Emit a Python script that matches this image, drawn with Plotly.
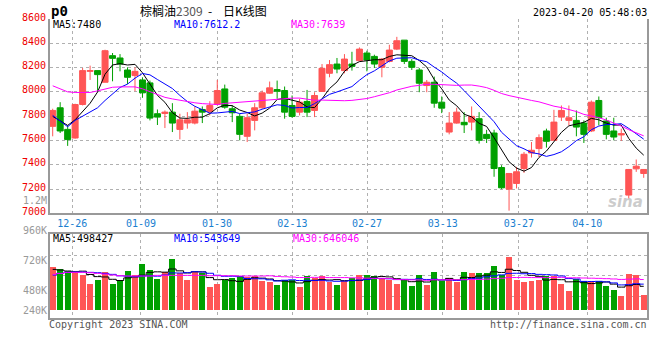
import plotly.graph_objects as go
import pandas as pd

# ---------------- data ----------------
dates = ["12-21","12-22","12-23","12-26","12-27","12-28","12-29","12-30",
         "01-03","01-04","01-05","01-06","01-09","01-10","01-11","01-12","01-13",
         "01-16","01-17","01-18","01-19","01-20","01-30","01-31","02-01","02-02","02-03",
         "02-06","02-07","02-08","02-09","02-10","02-13","02-14","02-15","02-16","02-17",
         "02-20","02-21","02-22","02-23","02-24","02-27","02-28","03-01","03-02","03-03",
         "03-06","03-07","03-08","03-09","03-10","03-13","03-14","03-15","03-16","03-17",
         "03-20","03-21","03-22","03-23","03-24","03-27","03-28","03-29","03-30","03-31",
         "04-03","04-04","04-06","04-07","04-10","04-11","04-12","04-13","04-14",
         "04-17","04-18","04-19","04-20"]

opens  = [7716,7869,7691,7620,7896,8169,8175,8079,8298,8279,8180,8134,8098,8074,7820,7822,7833,
          7691,7743,7743,7855,7839,7896,8024,7861,7798,7634,7765,7869,7989,8019,8011,7888,
          7833,7921,7847,8003,8153,8229,8175,8229,8257,8320,8292,8202,8251,8352,8426,8251,
          8180,8052,8079,7915,7669,7743,7749,7751,7779,7650,7661,7377,7199,7246,7369,7497,
          7533,7678,7601,7792,7765,7765,7743,7678,7929,7760,7678,7645,7150,7366,7328]
highs  = [7861,7915,7724,7902,8197,8216,8175,8347,8320,8311,8202,8202,8120,8093,7855,7847,7907,
          7820,7833,7880,7880,7923,8098,8060,7888,7820,7820,7907,8011,8085,8093,8044,7970,
          7943,8016,7997,8229,8262,8279,8311,8330,8366,8339,8306,8279,8388,8453,8426,8270,
          8197,8098,8126,7962,7833,7869,7833,7880,7833,7688,7688,7396,7328,7382,7505,7587,
          7650,7697,7852,7888,7888,7847,7765,7929,7962,7787,7787,7697,7361,7443,7361]
lows   = [7634,7661,7555,7615,7888,8098,7997,8079,8087,8169,8065,8005,7951,7765,7727,7702,7669,
          7609,7697,7732,7743,7806,7888,7861,7751,7601,7587,7683,7861,7984,7943,7779,7787,
          7806,7792,7792,8003,8120,8153,8153,8175,8251,8169,8197,8120,8243,8344,8229,8180,
          7997,7997,7869,7825,7650,7738,7661,7683,7574,7579,7301,7199,7022,7205,7333,7459,
          7464,7541,7601,7760,7724,7634,7579,7669,7724,7609,7601,7596,7123,7341,7292]
closes = [7847,7678,7607,7896,8175,8175,8142,8339,8276,8229,8120,8169,7992,7784,7792,7833,7743,
          7770,7770,7841,7833,7888,8011,7874,7828,7650,7787,7869,7992,8033,8005,7833,7798,
          7915,7833,7970,8194,8224,8188,8270,8210,8352,8262,8229,8270,8344,8421,8251,8202,
          8071,8079,7907,7866,7743,7833,7729,7798,7601,7615,7369,7210,7328,7342,7486,7519,
          7623,7593,7751,7847,7787,7710,7650,7915,7787,7650,7628,7656,7361,7388,7361]
volumes_k = [921,878,843,815,744,567,652,807,567,616,843,758,992,864,673,807,1098,
             793,637,807,793,489,567,652,687,722,701,737,616,595,545,652,652,
             503,737,687,737,595,545,630,687,758,758,737,687,652,567,652,524,
             758,545,807,630,694,595,822,786,786,786,949,758,1126,652,595,630,
             652,722,722,567,404,666,616,630,630,510,439,297,779,758,319]

# moving-average values before enough history is visible
ma5_head  = [7798,7760,7724,7770]
ma10_head = [7806,7757,7713,7765,7798,7833,7869,7929,7984]
ma30_head = [8050,8025,8000,7995,7995,7995,8008,8025,8038,8041,8041,8041,8025,8000,7975,
             7955,7942,7930,7920,7910,7903,7898,7896,7905,7910,7912,7915,7925,7930]
vma5_head  = [878,864,843,829]
vma10_head = [758,793,815,822,822,815,807,793,772]
vma30_head = [772,793,815,815,815,807,793,779,758,744,737,737,737,737,751,751,751,751,751,
              751,751,744,744,744,744,737,737,737,737]

tick_labels = ["12-26","01-09","01-30","02-13","02-27","03-13","03-27","04-10"]
price_ticks = [7000,7200,7400,7600,7800,8000,8200,8400,8600]

header_price = [("MA5:7480","#000000"),("MA10:7612.2","#0000ff"),("MA30:7639","#ff00ff")]
header_vol   = [("MA5:498427","#000000"),("MA10:543649","#0000ff"),("MA30:646046","#ff00ff")]
vol_labels   = ["1.2M","960K","720K","480K","240K"]

# ---------------- derived ----------------
def ma(vals, n, head):
    s = pd.Series(vals, dtype=float).rolling(n).mean().tolist()
    return list(head) + s[len(head):]

idx = list(range(len(dates)))
ma5, ma10, ma30 = ma(closes,5,ma5_head), ma(closes,10,ma10_head), ma(closes,30,ma30_head)
vma5, vma10, vma30 = ma(volumes_k,5,vma5_head), ma(volumes_k,10,vma10_head), ma(volumes_k,30,vma30_head)

RED, GREEN = "#ff5555", "#00a000"
MONO = "DejaVu Sans Mono"
GRID = "#b0b0b0"
AX = "#999999"

# ---------------- layout geometry ----------------
L, R, T, B = 50, 649.3, 19, 318
def px(x): return (x - L) / (R - L)
def py(y): return (B - y) / (B - T)

tick_pos = [2.61, 11.8, 21.97, 32.04, 42.02, 52.14, 62.32, 71.45]
xr = [-0.36, 79.44]
vscale = 0.04706  # px per K
vbase_y = 310.7
vrange = [-(B - vbase_y) / vscale, (vbase_y - 234.3) / vscale]
vgrid = [(vbase_y - y) / vscale for y in (296, 275.3, 255)]

fig = go.Figure()
fig.add_trace(go.Candlestick(
    x=idx, open=opens, high=highs, low=lows, close=closes,
    increasing=dict(line=dict(color=RED, width=1), fillcolor=RED),
    decreasing=dict(line=dict(color=GREEN, width=1), fillcolor=GREEN),
    whiskerwidth=0, xaxis="x", yaxis="y", hoverinfo="skip", showlegend=False))
for series, col in ((ma5,"#000000"),(ma10,"#0000ff"),(ma30,"#ff00ff")):
    fig.add_trace(go.Scatter(x=idx, y=series, mode="lines", line=dict(color=col, width=1),
                             xaxis="x", yaxis="y", hoverinfo="skip", showlegend=False))

vcolors = [RED if c >= o else GREEN for o, c in zip(opens, closes)]
fig.add_trace(go.Bar(x=idx, y=volumes_k, marker=dict(color=vcolors, line=dict(width=0)),
                     width=0.8, xaxis="x2", yaxis="y2", hoverinfo="skip", showlegend=False))
for series, col in ((vma5,"#000000"),(vma10,"#0000ff"),(vma30,"#ff00ff")):
    fig.add_trace(go.Scatter(x=idx, y=series, mode="lines", line=dict(color=col, width=1, shape="hvh"),
                             xaxis="x2", yaxis="y2", hoverinfo="skip", showlegend=False))

ann = []
def text(x, y, s, color="#000", size=10, xa="left", family=MONO, bold=False):
    if bold:
        s = "<b>" + s + "</b>"
    ann.append(dict(x=px(x), y=py(y), xref="paper", yref="paper", text=s, showarrow=False,
                    xanchor=xa, yanchor="middle", font=dict(family=family, size=size, color=color),
                    borderpad=0))

NB = "\u00a0"
text(50, 11.5, "p0", size=14, bold=True)
text(139, 10, "棕榈油<span style='color:#555555'>2309</span>" + NB + NB + "-" + NB * 4 + "日K线图",
     size=12, family="Noto Sans CJK SC")
text(650, 12, "2023-04-20 05:48:03", size=10, xa="right")
for (s, c), x in zip(header_price, (52, 173, 291)):
    text(x, 24.5, s, color=c)
for (s, c), x in zip(header_vol, (52, 173, 293)):
    text(x, 238.5, s, color=c)
for s, y in zip(vol_labels, (200.7, 230.7, 260.7, 290, 310)):
    text(48, y, s, color="#999999", xa="right")
text(48, 324, "Copyright 2023 SINA.COM", color="#555555")
text(650, 324, "http://finance.sina.com.cn", color="#555555", xa="right")
text(628, 202, "<i>sina</i>", color="rgba(170,170,170,0.6)", size=15, family="DejaVu Sans", xa="center", bold=True)

fig.update_layout(
    width=660, height=360, margin=dict(l=L, r=660 - R, t=T, b=360 - B, pad=0),
    paper_bgcolor="white", plot_bgcolor="white", showlegend=False,
    boxgap=0.2, boxgroupgap=0, bargap=0, hovermode=False,
    annotations=ann,
    xaxis=dict(domain=[0, 1], range=xr, anchor="y", tickmode="array", tickvals=tick_pos,
               ticktext=tick_labels, tickfont=dict(family=MONO, size=10, color="#1a80d0"),
               showgrid=True, gridcolor=GRID, griddash="dot", gridwidth=1,
               showline=True, linecolor=AX, linewidth=2, mirror=False, ticks="",
               zeroline=False, rangeslider=dict(visible=False)),
    yaxis=dict(domain=[py(213.3), 1], range=[7000, 8600], anchor="x", tickmode="array",
               tickvals=price_ticks, tickfont=dict(family=MONO, size=10, color="#ee0000"),
               ticklabelshift=-2,
               showgrid=True, gridcolor=GRID, griddash="dot", gridwidth=1,
               showline=True, linecolor=AX, linewidth=2, mirror=True, ticks="", zeroline=False),
    xaxis2=dict(domain=[0, 1], range=xr, anchor="y2", tickmode="array", tickvals=tick_pos,
                showticklabels=False, showgrid=True, gridcolor=GRID, griddash="dot", gridwidth=1,
                showline=True, linecolor=AX, linewidth=2, mirror=True, ticks="", zeroline=False),
    yaxis2=dict(domain=[0, py(234.3)], range=vrange, anchor="x2", tickmode="array",
                tickvals=vgrid, showticklabels=False, showgrid=True, gridcolor=GRID,
                griddash="dot", gridwidth=1, showline=True, linecolor=AX, linewidth=2,
                mirror=True, ticks="", zeroline=False),
)
fig.write_html("out.html", config={"displayModeBar": False},
               post_script="document.body.style.margin='0';")
